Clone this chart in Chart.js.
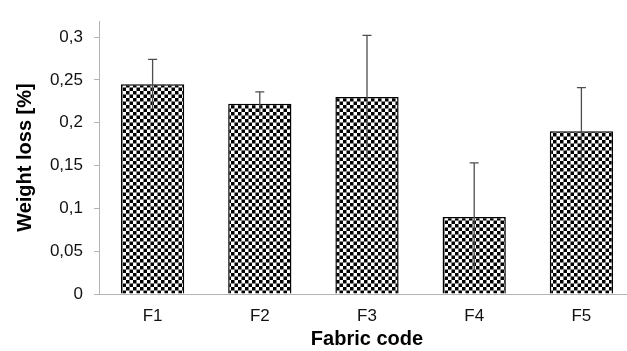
<!DOCTYPE html>
<html>
<head>
<meta charset="utf-8">
<script src="https://cdn.jsdelivr.net/npm/chart.js@4/dist/chart.umd.min.js"></script>
<style>
  html, body { margin: 0; padding: 0; overflow: hidden; background: #fff; }
  #wrap { width: 635px; height: 351px; }
</style>
</head>
<body>
<div id="wrap"><canvas id="c" width="635" height="351"></canvas></div>
<script>
// Mean weight loss per fabric and its standard deviation
const fabricCodes = ['F1', 'F2', 'F3', 'F4', 'F5'];
const weightLoss = [0.245, 0.222, 0.230, 0.090, 0.190];
const weightLossSD = [0.029, 0.014, 0.072, 0.063, 0.051];
const yTickValues = [0, 0.05, 0.1, 0.15, 0.2, 0.25, 0.3];

const FONT = '"Liberation Sans", Arial, Helvetica, sans-serif';
const AXIS_GREY = '#b4b4b4';

// Small black/white checker tile used as the bar fill
function checkerPattern() {
  const t = document.createElement('canvas');
  t.width = 7; t.height = 7;
  const g = t.getContext('2d');
  g.fillStyle = '#ffffff';
  g.fillRect(0, 0, 7, 7);
  g.fillStyle = '#000000';
  g.fillRect(0, 0, 3.5, 3.5);
  g.fillRect(3.5, 3.5, 3.5, 3.5);
  return g.createPattern(t, 'repeat');
}

// Draws vertical error bars (top cap only) over each bar
const errorBars = {
  id: 'errorBars',
  afterDatasetsDraw(chart) {
    const ctx = chart.ctx;
    const xs = chart.scales.x, ys = chart.scales.y;
    ctx.save();
    ctx.strokeStyle = '#4d4d4d';
    ctx.lineWidth = 1.3;
    weightLoss.forEach((v, i) => {
      const x = xs.getPixelForValue(i);
      const yTop = ys.getPixelForValue(v + weightLossSD[i]);
      const yBot = ys.getPixelForValue(v - weightLossSD[i]);
      ctx.beginPath();
      ctx.moveTo(x, yBot);
      ctx.lineTo(x, yTop);
      ctx.moveTo(x - 4.5, yTop);
      ctx.lineTo(x + 4.5, yTop);
      ctx.stroke();
    });
    ctx.restore();
  }
};

new Chart(document.getElementById('c'), {
  type: 'bar',
  data: {
    labels: fabricCodes,
    datasets: [{
      data: weightLoss,
      backgroundColor: checkerPattern(),
      borderColor: '#000000',
      borderWidth: 1.5,
      categoryPercentage: 1,
      barPercentage: 0.59
    }]
  },
  options: {
    responsive: false,
    animation: false,
    devicePixelRatio: 1,
    layout: { padding: { top: 13, left: 0, right: 0, bottom: 0 } },
    plugins: {
      legend: { display: false },
      tooltip: { enabled: false }
    },
    scales: {
      x: {
        grid: { display: false, drawTicks: false },
        border: { display: true, color: AXIS_GREY, width: 1 },
        ticks: { color: '#111', padding: 12, font: { family: FONT, size: 17 } },
        title: {
          display: true,
          text: 'Fabric code',
          color: '#000',
          padding: { top: 0, bottom: 0 },
          font: { family: FONT, size: 20, weight: 'bold' }
        },
        afterFit(s) { s.height = 57; }
      },
      y: {
        min: 0,
        max: 0.3185,
        afterBuildTicks(s) { s.ticks = yTickValues.map(v => ({ value: v })); },
        grid: { drawOnChartArea: false, drawTicks: true, tickLength: 5, color: AXIS_GREY },
        border: { display: true, color: AXIS_GREY, width: 1 },
        ticks: {
          color: '#111',
          padding: 11,
          font: { family: FONT, size: 17 },
          callback: (v) => String(v).replace('.', ',')
        },
        title: {
          display: true,
          text: 'Weight loss [%]',
          color: '#000',
          padding: { top: 13, bottom: 0 },
          font: { family: FONT, size: 20, weight: 'bold' }
        },
        afterFit(s) { s.width = 99; }
      }
    }
  },
  plugins: [errorBars]
});
</script>
</body>
</html>
